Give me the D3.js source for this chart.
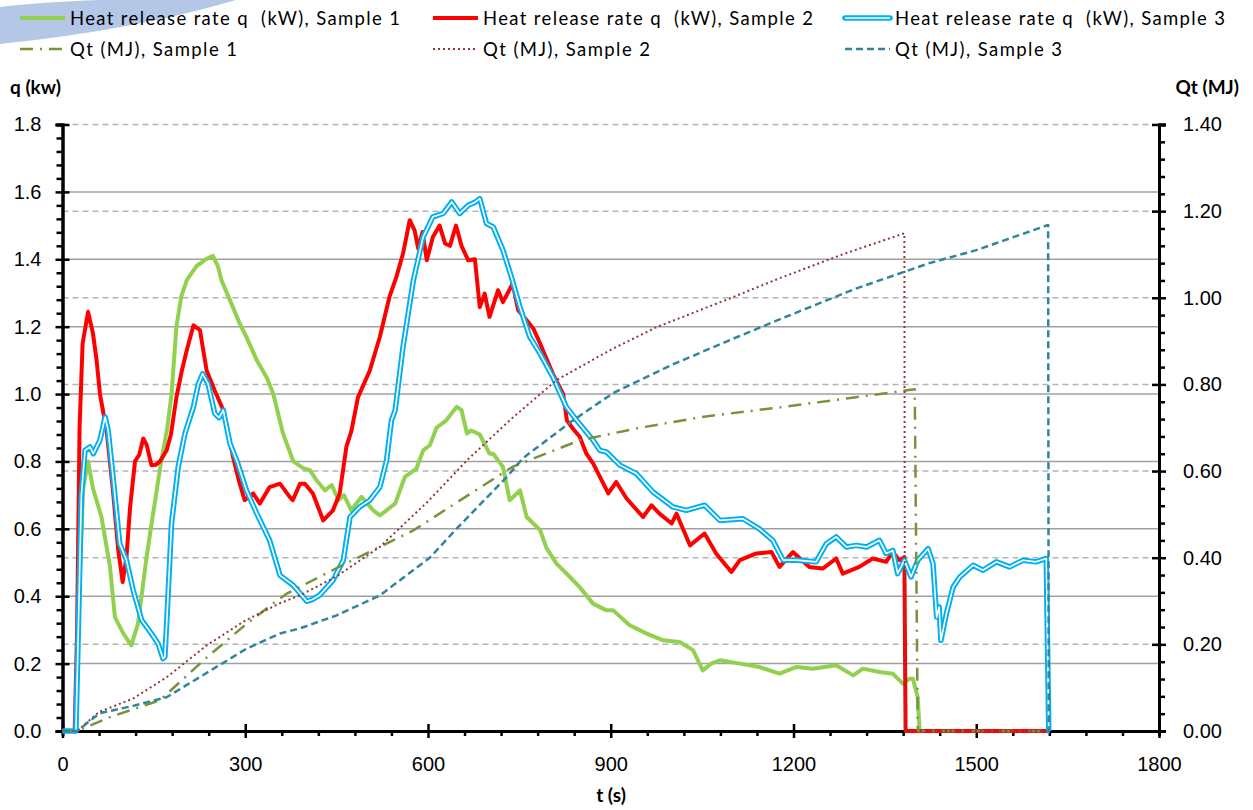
<!DOCTYPE html>
<html>
<head>
<meta charset="utf-8">
<script src="https://cdn.jsdelivr.net/npm/d3@7"></script>
<style>
  body { margin: 0; background: #fff; }
  svg { font-family: Lato, "Open Sans", sans-serif; }
</style>
</head>
<body>
<div class="chart"></div>
<script>
const width = 1253;
const height = 810;

// tick values
const qTicks = [0, 0.2, 0.4, 0.6, 0.8, 1.0, 1.2, 1.4, 1.6, 1.8];
const qtTicks = [0, 0.2, 0.4, 0.6, 0.8, 1.0, 1.2, 1.4];
const tTicks = [0, 300, 600, 900, 1200, 1500, 1800];

// heat release rate q (kW), [t (s), q]
const q1 = [[0,0],[22,0],[28,0.45],[34,0.72],[42,0.8],[50,0.72],[64,0.635],[78,0.487],[86,0.338],[100,0.289],[113,0.254],[124,0.319],[138,0.516],[150,0.66],[162,0.8],[172,0.9],[179,1.0],[187,1.2],[195,1.29],[204,1.338],[220,1.38],[228,1.39],[235,1.4],[247,1.41],[255,1.38],[261,1.338],[275,1.278],[291,1.209],[302,1.169],[319,1.1],[335,1.05],[346,1.0],[362,0.883],[379,0.8],[395,0.78],[406,0.774],[417,0.744],[431,0.714],[442,0.73],[453,0.685],[462,0.7],[474,0.655],[491,0.695],[510,0.655],[521,0.64],[532,0.655],[546,0.675],[562,0.754],[581,0.779],[592,0.833],[603,0.848],[614,0.9],[630,0.922],[647,0.962],[655,0.952],[664,0.883],[671,0.892],[685,0.88],[701,0.823],[707,0.823],[723,0.784],[734,0.685],[751,0.714],[762,0.635],[784,0.596],[795,0.541],[811,0.497],[833,0.457],[849,0.427],[871,0.378],[893,0.358],[904,0.358],[931,0.314],[959,0.289],[986,0.269],[1013,0.264],[1035,0.24],[1051,0.18],[1065,0.2],[1079,0.21],[1112,0.2],[1144,0.19],[1177,0.17],[1205,0.19],[1232,0.185],[1270,0.195],[1298,0.165],[1314,0.185],[1341,0.175],[1363,0.17],[1380,0.14],[1390,0.155],[1396,0.155],[1404,0.1],[1407,0],[1620,0]];
const q2 = [[0,0],[20,0],[24,0.3],[28,0.9],[33,1.15],[42,1.244],[50,1.18],[56,1.1],[61.5,1.0],[72.5,0.89],[83,0.71],[91.6,0.536],[98.7,0.442],[105,0.516],[111,0.665],[119,0.8],[126,0.82],[132.6,0.868],[138,0.85],[146,0.789],[153,0.79],[160,0.8],[171,0.833],[178,0.88],[187,0.99],[196,1.07],[204,1.13],[215,1.204],[225.6,1.19],[236.6,1.07],[250,1.01],[264,0.952],[280,0.813],[290,0.74],[299,0.685],[313,0.705],[324,0.675],[340,0.724],[357,0.734],[373,0.695],[378,0.685],[390,0.734],[398,0.734],[411,0.705],[428,0.625],[444,0.655],[455,0.705],[466,0.843],[474.5,0.892],[485,0.99],[504.5,1.07],[521,1.17],[537,1.29],[548,1.347],[559,1.417],[570,1.516],[578,1.486],[584,1.432],[591,1.481],[598,1.397],[608,1.466],[619,1.5],[628,1.447],[636,1.44],[646,1.5],[655,1.44],[666,1.397],[677,1.4],[685,1.258],[693,1.298],[701,1.229],[715,1.308],[723,1.273],[739,1.328],[748,1.249],[762,1.219],[773,1.194],[784,1.15],[805,1.06],[822,1.0],[828,0.922],[838,0.897],[849,0.873],[860,0.823],[871,0.794],[896,0.705],[909,0.739],[926,0.69],[953,0.635],[967,0.67],[980,0.645],[1000,0.616],[1008,0.645],[1030,0.551],[1054,0.586],[1073,0.527],[1098,0.472],[1112,0.507],[1139,0.527],[1164,0.531],[1177,0.487],[1199,0.531],[1226,0.487],[1248,0.482],[1270,0.512],[1281,0.467],[1308,0.487],[1330,0.512],[1352,0.502],[1363,0.531],[1374,0.507],[1382,0.516],[1384,0],[1620,0]];
const q3 = [[0,0],[22,0],[26,0.3],[31,0.7],[37,0.833],[45,0.843],[50.5,0.823],[61.5,0.863],[70,0.932],[75,0.892],[83,0.754],[94,0.556],[105,0.507],[116,0.418],[130,0.329],[146,0.289],[157,0.259],[165,0.215],[168,0.22],[171,0.319],[179,0.616],[190,0.784],[201,0.883],[215,0.962],[223,1.03],[230,1.06],[239,1.03],[250,0.942],[257,0.93],[264,0.952],[275,0.853],[286,0.803],[302,0.714],[319,0.645],[340,0.566],[357,0.462],[379,0.432],[401,0.385],[410,0.39],[422,0.403],[444,0.447],[461,0.507],[472,0.635],[488,0.665],[504.5,0.685],[521,0.724],[532,0.803],[540,0.922],[546,0.951],[559,1.14],[576,1.338],[592,1.466],[608,1.526],[625,1.536],[639,1.57],[652,1.536],[666,1.56],[678,1.57],[685,1.58],[696,1.506],[707,1.496],[723,1.427],[737,1.347],[751,1.258],[767,1.17],[784,1.12],[805,1.05],[827,0.962],[844,0.922],[871,0.863],[882,0.833],[893,0.828],[915,0.789],[942,0.764],[969,0.71],[1002,0.665],[1024,0.655],[1054,0.67],[1079,0.625],[1117,0.63],[1144,0.6],[1166,0.566],[1183,0.507],[1205,0.507],[1237,0.502],[1254,0.556],[1270,0.576],[1287,0.546],[1303,0.551],[1320,0.546],[1341,0.566],[1352,0.527],[1363,0.536],[1371,0.467],[1382,0.507],[1393,0.457],[1404,0.507],[1421,0.541],[1429,0.497],[1435,0.338],[1439,0.368],[1442,0.269],[1451,0.348],[1462,0.427],[1473,0.457],[1495,0.492],[1511,0.477],[1533,0.502],[1555,0.487],[1577,0.507],[1598,0.502],[1615,0.512],[1619,0],[1620,0]];

// total heat released Qt (MJ), [t (s), Qt]
const qt1 = [[0,0],[24,0],[78,0.032],[160,0.071],[237,0.17],[300,0.245],[351,0.3],[368,0.317],[450,0.376],[576,0.463],[650,0.53],[739,0.61],[849,0.671],[948,0.7],[1050,0.725],[1177,0.747],[1300,0.77],[1399,0.789],[1404,0],[1620,0]];
const qt2 = [[0,0],[24,0],[60,0.044],[116,0.075],[171,0.124],[237,0.198],[300,0.255],[357,0.295],[390,0.313],[450,0.357],[521,0.425],[600,0.53],[664,0.625],[734,0.717],[811,0.81],[900,0.88],[975,0.932],[1080,0.99],[1177,1.045],[1280,1.1],[1382,1.149],[1383,0],[1620,0]];
const qt3 = [[0,0],[24,0],[61,0.041],[116,0.058],[171,0.078],[226,0.125],[302,0.19],[357,0.225],[390,0.237],[450,0.267],[521,0.313],[603,0.4],[647,0.467],[729,0.586],[756,0.63],[838,0.717],[904,0.78],[1000,0.845],[1100,0.905],[1177,0.95],[1300,1.02],[1423,1.08],[1500,1.11],[1618,1.168],[1619,0],[1620,0]];

const seriesNames = [
  "Heat release rate q  (kW), Sample 1",
  "Heat release rate q  (kW), Sample 2",
  "Heat release rate q  (kW), Sample 3",
  "Qt (MJ), Sample 1",
  "Qt (MJ), Sample 2",
  "Qt (MJ), Sample 3",
];

const plotLeft = 62.5;
const plotRight = 1159;
const plotTop = 124.5;
const plotBottom = 731;

const svg = d3
  .select(".chart")
  .append("svg")
  .attr("width", width)
  .attr("height", height);

const x = d3.scaleLinear().domain([0, 1800]).range([plotLeft, plotRight]);
const yLeft = d3.scaleLinear().domain([0, 1.8]).range([plotBottom, plotTop]);
const yRight = d3.scaleLinear().domain([0, 1.4]).range([plotBottom, plotTop]);

const styles = [
  { color: "#92d050", width: 4, dash: null },
  { color: "#ff0000", width: 4, dash: null },
  { color: "#00b0f0", width: 5.5, dash: null, double: true },
  { color: "#77933c", width: 2.5, dash: "13,7,2,7" },
  { color: "#953735", width: 2, dash: "2,3" },
  { color: "#31859c", width: 2.5, dash: "7,4" },
];

// background swoosh
svg
  .append("path")
  .attr("d", "M0,44 Q135,30 236,0 L100,0 Q40,2 0,7 Z")
  .attr("fill", "#b4c7e7");

drawGrid();
drawAxes();
drawLines();
drawLegend();
drawTitles();

function drawGrid() {
  svg
    .append("g")
    .selectAll("line")
    .data(qTicks.filter((d) => d > 0 && d < 1.8))
    .enter()
    .append("line")
    .attr("x1", plotLeft)
    .attr("x2", plotRight)
    .attr("y1", (d) => yLeft(d))
    .attr("y2", (d) => yLeft(d))
    .attr("stroke", "#a0a0a0")
    .attr("stroke-width", 1.5);

  svg
    .append("g")
    .selectAll("line")
    .data(qtTicks.filter((d) => d > 0))
    .enter()
    .append("line")
    .attr("x1", plotLeft)
    .attr("x2", plotRight)
    .attr("y1", (d) => yRight(d))
    .attr("y2", (d) => yRight(d))
    .attr("stroke", "#b4b4b4")
    .attr("stroke-width", 1.5)
    .attr("stroke-dasharray", "6,4");
}

function drawLines() {
  const lineLeft = d3
    .line()
    .x((d) => x(d[0]))
    .y((d) => yLeft(d[1]));
  const lineRight = d3
    .line()
    .x((d) => x(d[0]))
    .y((d) => yRight(d[1]));

  const all = [q1, q2, q3, qt1, qt2, qt3];
  all.forEach((data, i) => {
    let s = styles[i];
    let gen = i < 3 ? lineLeft : lineRight;
    let path = svg
      .append("path")
      .attr("d", gen(data))
      .attr("fill", "none")
      .attr("stroke", s.color)
      .attr("stroke-width", s.width)
      .attr("stroke-linejoin", "round");
    if (s.dash) path.attr("stroke-dasharray", s.dash);
    if (s.double) {
      svg
        .append("path")
        .attr("d", gen(data))
        .attr("fill", "none")
        .attr("stroke", "#fff")
        .attr("stroke-width", 1.6)
        .attr("stroke-linejoin", "round");
    }
  });
}

function minorTicks(ticks, n) {
  let out = [];
  for (let i = 0; i < ticks.length - 1; i++) {
    let step = (ticks[i + 1] - ticks[i]) / n;
    for (let j = 1; j < n; j++) out.push(ticks[i] + step * j);
  }
  return out;
}

function styleAxis(g) {
  g.select(".domain").attr("stroke", "#000").attr("stroke-width", 3);
  g.selectAll(".tick line").attr("stroke", "#000").attr("stroke-width", 2.5);
  g.selectAll("text").attr("font-size", "20px").attr("fill", "#000");
}

function drawAxes() {
  // minor ticks
  svg
    .append("g")
    .attr("transform", `translate(${plotLeft},0)`)
    .call(d3.axisLeft(yLeft).tickValues(minorTicks(qTicks, 5)).tickSize(6).tickFormat(""))
    .call(styleAxis);
  svg
    .append("g")
    .attr("transform", `translate(${plotRight},0)`)
    .call(d3.axisRight(yRight).tickValues(minorTicks(qtTicks, 5)).tickSize(6).tickFormat(""))
    .call(styleAxis);
  svg
    .append("g")
    .attr("transform", `translate(0,${plotBottom})`)
    .call(d3.axisBottom(x).tickValues(minorTicks(tTicks, 5)).tickSize(5).tickFormat(""))
    .call(styleAxis);

  // major ticks
  let left = svg
    .append("g")
    .attr("transform", `translate(${plotLeft},0)`)
    .call(d3.axisLeft(yLeft).tickValues(qTicks).tickSize(7).tickPadding(14).tickFormat(d3.format(".1f")))
    .call(styleAxis);
  left.selectAll(".tick line").attr("x1", 7);

  let right = svg
    .append("g")
    .attr("transform", `translate(${plotRight},0)`)
    .call(d3.axisRight(yRight).tickValues(qtTicks).tickSize(7).tickPadding(17).tickFormat(d3.format(".2f")))
    .call(styleAxis);
  right.selectAll(".tick line").attr("x1", -7);

  let bottom = svg
    .append("g")
    .attr("transform", `translate(0,${plotBottom})`)
    .call(d3.axisBottom(x).tickValues(tTicks).tickSize(7).tickPadding(19).tickSizeOuter(0).tickFormat(d3.format("d")))
    .call(styleAxis);
  bottom.selectAll(".tick line").attr("y1", -7);
}

function drawLegend() {
  const cols = [20, 433, 845];
  const rows = [18, 49];
  const textWidths = [330, 167];
  seriesNames.forEach((name, i) => {
    let s = styles[i];
    let row = Math.floor(i / 3);
    let g = svg.append("g").attr("transform", `translate(${cols[i % 3]},${rows[row]})`);
    let sym = g
      .append("line")
      .attr("x1", 0)
      .attr("x2", 45)
      .attr("stroke", s.color)
      .attr("stroke-width", s.width);
    if (s.dash) sym.attr("stroke-dasharray", s.dash);
    if (s.double) {
      sym.attr("stroke-linecap", "round");
      g.append("line")
        .attr("x1", 0)
        .attr("x2", 45)
        .attr("stroke", "#fff")
        .attr("stroke-width", 1.6);
    }
    g.append("text")
      .attr("x", 50)
      .attr("y", 7)
      .attr("font-size", "18.5px")
      .attr("textLength", textWidths[row])
      .attr("lengthAdjust", "spacing")
      .style("white-space", "pre")
      .text(name);
  });
}

function drawTitles() {
  svg
    .append("text")
    .attr("x", 10)
    .attr("y", 94)
    .attr("font-size", "19px")
    .attr("font-weight", "bold")
    .text("q (kw)");
  svg
    .append("text")
    .attr("x", 1239)
    .attr("y", 94)
    .attr("text-anchor", "end")
    .attr("font-size", "19px")
    .attr("font-weight", "bold")
    .text("Qt (MJ)");
  svg
    .append("text")
    .attr("x", 611)
    .attr("y", 802)
    .attr("text-anchor", "middle")
    .attr("font-size", "19px")
    .attr("font-weight", "bold")
    .text("t (s)");
}
</script>
</body>
</html>
